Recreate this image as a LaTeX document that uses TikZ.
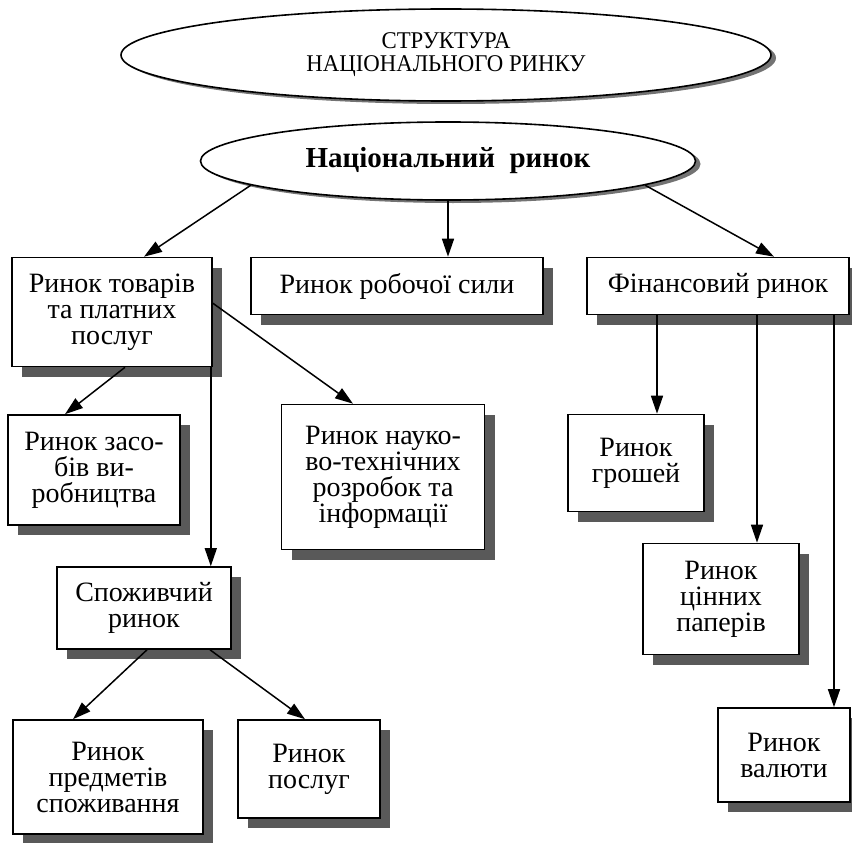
\documentclass[tikz,border=0pt]{standalone}
\usepackage{fontspec}
\setmainfont{Liberation Serif}
\newfontfamily\narrowfont[FakeStretch=0.95]{Liberation Serif}
\usetikzlibrary{shapes.geometric,shadows,arrows.meta}

\tikzset{
	market/.style={draw,line width=1.6pt,fill=white,align=center,inner sep=2pt,
		font=\fontsize{28}{26}\selectfont,
		drop shadow={shadow xshift=10pt,shadow yshift=-10pt,fill=black!65,opacity=1}},
	oval/.style={ellipse,draw,line width=1.6pt,fill=white,inner sep=0pt,align=center,
		drop shadow={shadow xshift=5pt,shadow yshift=-3pt,fill=black!55,opacity=1}}
}

\begin{document}
\begin{tikzpicture}[x=1pt,y=-1pt,line width=1.5pt,>={Triangle[length=18pt,width=12pt]}]
		\useasboundingbox (0,0) rectangle (852,843);
		\node (title) [oval,minimum width=650pt,minimum height=92pt,font=\narrowfont\fontsize{24}{23}\selectfont] at (446,55) {СТРУКТУРА\\НАЦІОНАЛЬНОГО РИНКУ};
		\node (nat) [oval,minimum width=495pt,minimum height=78pt,font=\bfseries\fontsize{29}{26}\selectfont] at (448,161) {Національний\ \ ринок};
		\node (tov) [market,minimum width=200pt,minimum height=109pt] at (112,312) {Ринок товарів\\та платних\\послуг};
		\node (rob) [market,minimum width=292pt,minimum height=57pt] at (397,286) {Ринок робочої сили};
		\node (fin) [market,minimum width=262pt,minimum height=57pt] at (718,286) {Фінансовий ринок};
		\node (zas) [market,minimum width=172pt,minimum height=110pt] at (94,470) {Ринок засо-\\бів ви-\\робництва};
		\node (nauk) [market,minimum width=203pt,minimum height=145pt] at (383,477) {Ринок науко-\\во-технічних\\розробок та\\інформації};
		\node (gro) [market,minimum width=136pt,minimum height=97pt] at (636,463) {Ринок\\грошей};
		\node (cin) [market,minimum width=156pt,minimum height=111pt] at (721,599) {Ринок\\цінних\\паперів};
		\node (val) [market,minimum width=132pt,minimum height=94pt] at (784,755) {Ринок\\валюти};
		\node (spo) [market,minimum width=174pt,minimum height=82pt] at (144,608) {Споживчий\\ринок};
		\node (pre) [market,minimum width=190pt,minimum height=114pt] at (108,777) {Ринок\\предметів\\споживання};
		\node (pos) [market,minimum width=142pt,minimum height=98pt] at (309,769) {Ринок\\послуг};
		\draw (nat.187) edge[->] ([xshift=32pt]tov.north);
		\draw (nat.south) edge[->] (nat.south |- rob.north);
		\draw (nat.353) edge[->] ([xshift=56pt]fin.north);
		\draw ([xshift=13pt]tov.south) edge[->] ([xshift=-29pt]zas.north);
		\draw ([xshift=-2pt]tov.south east) edge[->] ([xshift=-2pt]tov.south east |- spo.north);
		\draw (tov.5) edge[->] ([xshift=-30pt]nauk.north);
		\draw ([xshift=-61pt]fin.south) edge[->] ([xshift=-61pt]fin.south |- gro.north);
		\draw ([xshift=39pt]fin.south) edge[->] ([xshift=39pt]fin.south |- cin.north);
		\draw ([xshift=116pt]fin.south) edge[->] ([xshift=116pt]fin.south |- val.north);
		\draw ([xshift=3pt]spo.south) edge[->] ([xshift=-35pt]pre.north);
		\draw ([xshift=66pt]spo.south) edge[->] ([xshift=-4pt]pos.north);
	\end{tikzpicture}
\end{document}
